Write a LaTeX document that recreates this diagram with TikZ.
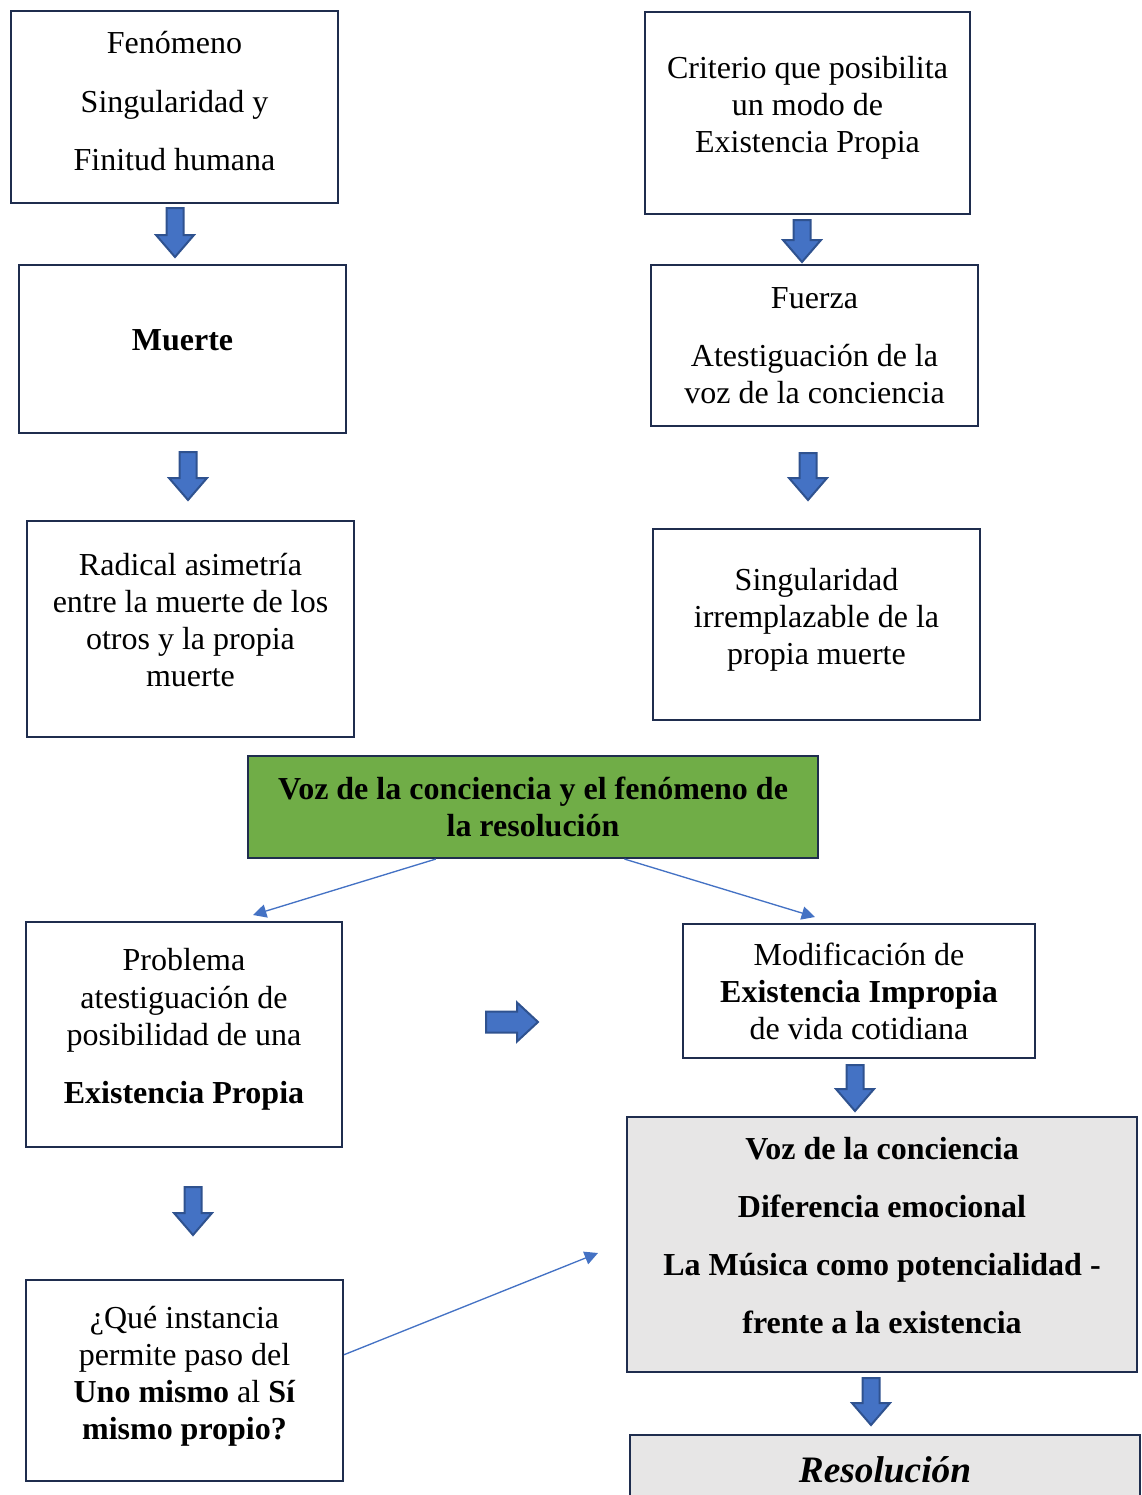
\documentclass[tikz,border=0pt]{standalone}
\usepackage{fontspec}
\setmainfont{Liberation Serif}
\usetikzlibrary{arrows.meta,calc}

\definecolor{boxline}{HTML}{1F2D4E}
\definecolor{arrowblue}{HTML}{4472C4}
\definecolor{arrowline}{HTML}{2F528F}
\definecolor{boxgreen}{HTML}{70AD47}
\definecolor{boxgray}{HTML}{E7E6E6}

\tikzset{
  box/.style 2 args={draw=boxline, line width=0.8pt, align=center, inner sep=2pt,
    minimum width={#1*0.375pt}, minimum height={#2*0.375pt},
    font=\fontsize{12}{13.9}\selectfont},
  thinarrow/.style={draw=arrowblue, line width=0.5pt,
    -{Triangle[length=5pt,width=5pt]}},
  blockarrow/.style={fill=arrowblue, draw=arrowline, line width=0.75pt}
}

\begin{document}
\begin{tikzpicture}[x=0.375pt,y=-0.375pt]
            \clip (0,0) rectangle (1141,1495);
            % left column
            \node[box={327}{192}, text depth=4.5pt] (fenomeno) at (174.5,107)
                {Fenómeno\\[7.9pt] Singularidad y\\[7.9pt] Finitud humana};
            \node[box={327}{168}, text depth=6.75pt] (muerte) at (182.5,349) {\textbf{Muerte}};
            \node[box={327}{216}, text depth=6.75pt] (asimetria) at (190.5,629)
                {Radical asimetría\\ entre la muerte de los\\ otros y la propia\\ muerte};
            % right column
            \node[box={325}{202}, text depth=6.4pt] (criterio) at (807.5,113)
                {Criterio que posibilita\\ un modo de\\ Existencia Propia};
            \node[box={327}{161}] (fuerza) at (814.5,345.5)
                {Fuerza\\[7.9pt] Atestiguación de la\\ voz de la conciencia};
            \node[box={327}{191}, text depth=6.4pt] (singular) at (816.5,624.5)
                {Singularidad\\ irremplazable de la\\ propia muerte};
            % middle
            \node[box={570}{102}, fill=boxgreen] (voz) at (533,807)
                {\textbf{Voz de la conciencia y el fenómeno de}\\ \textbf{la resolución}};
            \node[box={316}{225}, text depth=6.4pt] (problema) at (184,1034.5)
                {Problema\\ atestiguación de\\ posibilidad de una\\[7.9pt] \textbf{Existencia Propia}};
            \node[box={352}{134}] (modificacion) at (859,991)
                {Modificación de\\ \textbf{Existencia Impropia}\\ de vida cotidiana};
            \node[box={510}{255}, fill=boxgray, text depth=6.75pt] (diferencia) at (882,1244.5)
                {\textbf{Voz de la conciencia}\\[7.9pt] \textbf{Diferencia emocional}\\[7.9pt]
                 \textbf{La Música como potencialidad -}\\[7.9pt] \textbf{frente a la existencia}};
            \node[box={317}{201}, text depth=5.6pt] (instancia) at (184.5,1380.5)
                {¿Qué instancia\\ permite paso del\\ \textbf{Uno mismo} al \textbf{Sí}\\ \textbf{mismo propio?}};
            \node[box={510}{70}, fill=boxgray, font=\fontsize{14}{16}\selectfont]
                (resolucion) at (885,1470) {\textbf{\textit{Resolución}}};
            % block arrows
            \foreach \x/\y/\l in {175/208/49,188/452/48,802/220/42,808/453/47,
                                  855/1065/46,193/1187/48,871/1378/47}
            \filldraw[blockarrow,shift={(\x,\y)}] (-8.5,0) -- (8.5,0) -- (8.5,\l-22)
                -- (19,\l-22) -- (0,\l) -- (-19,\l-22) -- (-8.5,\l-22) -- cycle;
            \filldraw[blockarrow,shift={(486,1022)}] (0,-10.5) -- (31,-10.5) -- (31,-19.5)
                -- (52,0) -- (31,19.5) -- (31,10.5) -- (0,10.5) -- cycle;
            % thin arrows
            \coordinate (toproblema) at (253,915);
            \coordinate (tomodif) at (815,917);
            \coordinate (tomusica) at (598,1253);
            \draw[thinarrow] ($(voz.south west)!0.33!(voz.south east)$) -- (toproblema);
            \draw[thinarrow] ($(voz.south west)!0.66!(voz.south east)$) -- (tomodif);
            \draw[thinarrow] ($(instancia.north east)!0.373!(instancia.south east)$) -- (tomusica);
      \end{tikzpicture}
\end{document}
